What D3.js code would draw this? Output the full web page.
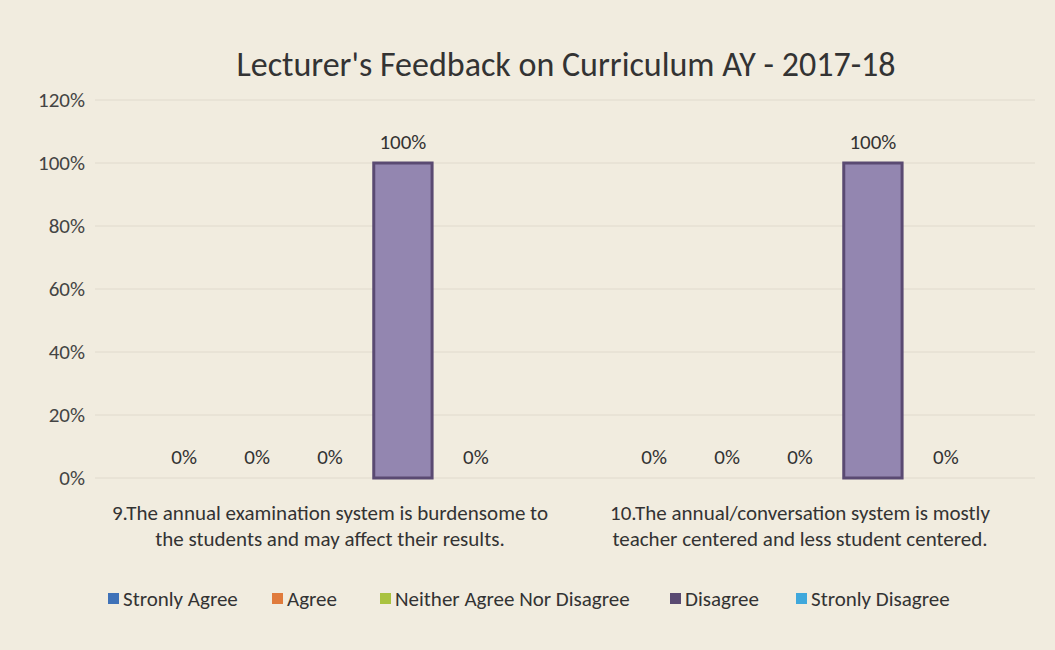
<!DOCTYPE html>
<html>
<head>
<meta charset="utf-8">
<script src="https://cdn.jsdelivr.net/npm/d3@7"></script>
<style>
    body { margin: 0; background: #f1ecdf; }
    svg { display: block; font-family: Calibri, Carlito, Lato, sans-serif; }
</style>
</head>
<body>
<svg width="1055" height="650"></svg>
<script>
var categories = [
    ["9.The annual examination system is burdensome to", "the students and may affect their results."],
    ["10.The annual/conversation system is mostly", "teacher centered and less student centered."]
];
var seriesNames = ["Stronly Agree", "Agree", "Neither Agree Nor Disagree", "Disagree", "Stronly Disagree"];
var seriesColors = ["#3f72b8", "#e07b3c", "#a9c23f", "#5a4a72", "#3fa8dc"];
var values = [
    [0, 0, 0, 1, 0],
    [0, 0, 0, 1, 0]
];
var yTicks = [0, 0.2, 0.4, 0.6, 0.8, 1.0, 1.2];

var svg = d3.select("svg"),
    margin = {top: 100, right: 20, bottom: 172, left: 95},
    width = +svg.attr("width") - margin.left - margin.right,
    height = +svg.attr("height") - margin.top - margin.bottom,
    g = svg.append("g").attr("transform", "translate(" + margin.left + "," + margin.top + ")");

var pct = d3.format(".0%");

svg.append("text")
    .attr("x", 566)
    .attr("y", 76)
    .attr("text-anchor", "middle")
    .attr("font-size", 34)
    .attr("fill", "#333")
    .text("Lecturer's Feedback on Curriculum AY - 2017-18");

var x0 = d3.scaleBand()
    .domain(d3.range(categories.length))
    .range([0, width]);

var x1 = d3.scaleBand()
    .domain(d3.range(seriesNames.length))
    .range([60, x0.bandwidth() - 60])
    .paddingInner(0.2);

var y = d3.scaleLinear()
    .domain([0, 1.2])
    .range([height, 0]);

// gridlines
g.append("g")
    .selectAll("line")
    .data(yTicks)
    .enter().append("line")
    .attr("x1", 0)
    .attr("x2", width)
    .attr("y1", function (d) { return y(d); })
    .attr("y2", function (d) { return y(d); })
    .attr("stroke", "#e0dacd")
    .attr("stroke-width", 1);

var yAxis = g.append("g")
    .call(d3.axisLeft(y).tickValues(yTicks).tickFormat(pct).tickSize(0).tickPadding(10));
yAxis.select(".domain").remove();
yAxis.selectAll("text")
    .attr("font-size", 21)
    .attr("fill", "#444")
    .attr("font-family", "Calibri, Carlito, Lato, sans-serif");

var groups = g.selectAll(".cat")
    .data(values)
    .enter().append("g")
    .attr("class", "cat")
    .attr("transform", function (d, i) { return "translate(" + x0(i) + ",0)"; });

groups.selectAll("rect")
    .data(function (d) { return d; })
    .enter().append("rect")
    .attr("x", function (d, j) { return x1(j); })
    .attr("y", function (d) { return y(d); })
    .attr("width", x1.bandwidth())
    .attr("height", function (d) { return height - y(d); })
    .attr("fill", function (d, j) { return j === 3 ? "#9386b0" : seriesColors[j]; })
    .attr("stroke", function (d, j) { return seriesColors[j]; })
    .attr("stroke-width", function (d) { return d > 0 ? 3 : 0; });

groups.selectAll(".lbl")
    .data(function (d) { return d; })
    .enter().append("text")
    .attr("class", "lbl")
    .attr("x", function (d, j) { return x1(j) + x1.bandwidth() / 2; })
    .attr("y", function (d) { return y(d) - 14; })
    .attr("text-anchor", "middle")
    .attr("font-size", 21)
    .attr("fill", "#333")
    .text(function (d) { return pct(d); });

// category labels
groups.append("text")
    .attr("text-anchor", "middle")
    .attr("font-size", 21)
    .attr("fill", "#333")
    .selectAll("tspan")
    .data(function (d, i) { return categories[i]; })
    .enter().append("tspan")
    .attr("x", x0.bandwidth() / 2)
    .attr("y", function (d, k) { return height + 42 + k * 26; })
    .text(function (d) { return d; });

// legend
var legendX = [108, 272, 380, 670, 796];
var legend = svg.append("g").selectAll("g")
    .data(seriesNames)
    .enter().append("g")
    .attr("transform", function (d, j) { return "translate(" + legendX[j] + ",606)"; });

legend.append("rect")
    .attr("x", 0)
    .attr("y", -13)
    .attr("width", 11)
    .attr("height", 11)
    .attr("fill", function (d, j) { return seriesColors[j]; });

legend.append("text")
    .attr("x", 15)
    .attr("y", 0)
    .attr("font-size", 21)
    .attr("fill", "#333")
    .text(function (d) { return d; });
</script>
</body>
</html>
